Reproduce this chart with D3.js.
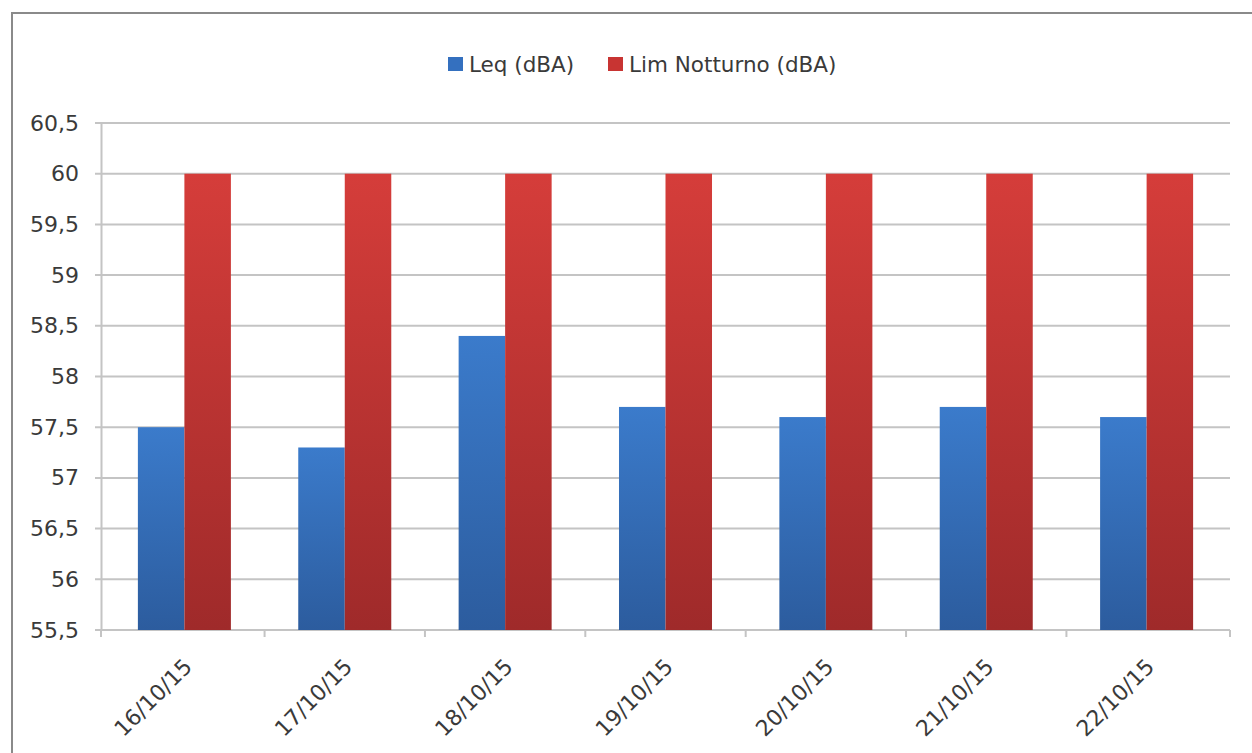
<!DOCTYPE html>
<html>
<head>
<meta charset="utf-8">
<script src="https://cdn.jsdelivr.net/npm/d3@7"></script>
<style>
  html, body { margin: 0; padding: 0; background: #fff; }
  svg { display: block; font-family: "DejaVu Sans", sans-serif; }
</style>
</head>
<body>
<svg id="chart" width="1252" height="753"></svg>
<script>
const categories = ["16/10/15", "17/10/15", "18/10/15", "19/10/15", "20/10/15", "21/10/15", "22/10/15"];
const seriesNames = ["Leq (dBA)", "Lim Notturno (dBA)"];
const leqValues = [57.5, 57.3, 58.4, 57.7, 57.6, 57.7, 57.6];
const limValues = [60, 60, 60, 60, 60, 60, 60];
const yTicks = [55.5, 56, 56.5, 57, 57.5, 58, 58.5, 59, 59.5, 60, 60.5];

const seriesValues = [leqValues, limValues];
const gradIds = ["gBlue", "gRed"];
const gradStops = [["#3b7bcb", "#2c5c9e"], ["#d53d3a", "#9f2a2a"]];
const legendColors = ["#3470bf", "#c83432"];

const svg = d3.select("#chart");
const defs = svg.append("defs");
gradIds.forEach((id, i) => {
  const g = defs.append("linearGradient").attr("id", id)
    .attr("x1", 0).attr("y1", 0).attr("x2", 0).attr("y2", 1);
  g.append("stop").attr("offset", "0%").attr("stop-color", gradStops[i][0]);
  g.append("stop").attr("offset", "100%").attr("stop-color", gradStops[i][1]);
});

// frame
svg.append("rect").attr("x", 12).attr("y", 13).attr("width", 1260).attr("height", 760)
  .attr("fill", "none").attr("stroke", "#8a8a8a").attr("stroke-width", 2);

const plotLeft = 101, plotRight = 1230, plotTop = 123, plotBottom = 630;
const y = d3.scaleLinear().domain([55.5, 60.5]).range([plotBottom, plotTop]);
const x0 = d3.scaleBand().domain(categories).range([plotLeft, plotRight])
  .paddingInner(0.42).paddingOuter(0.23);
const x1 = d3.scaleBand().domain(seriesNames).range([0, x0.bandwidth()]).padding(0);

// gridlines
svg.append("g").selectAll("line").data(yTicks).join("line")
  .attr("x1", plotLeft - 6).attr("x2", plotRight)
  .attr("y1", d => y(d)).attr("y2", d => y(d))
  .attr("stroke", "#c4c4c4").attr("stroke-width", 2);

// y axis
const yAxis = d3.axisLeft(y).tickValues(yTicks).tickSize(0).tickPadding(22)
  .tickFormat(d => String(d).replace(".", ","));
const ya = svg.append("g").attr("transform", `translate(${plotLeft},0)`).call(yAxis);
ya.select(".domain").attr("stroke", "#c4c4c4").attr("stroke-width", 2);
ya.selectAll("text").attr("font-size", 22).attr("fill", "#3a3a3a")
  .attr("font-family", "DejaVu Sans, sans-serif");

// bars
const groups = svg.append("g").selectAll("g").data(categories).join("g")
  .attr("transform", d => `translate(${x0(d)},0)`);
groups.selectAll("rect").data((d, i) => seriesNames.map((s, j) => ({ s, v: seriesValues[j][i], j })))
  .join("rect")
  .attr("x", d => x1(d.s)).attr("width", x1.bandwidth())
  .attr("y", d => y(d.v)).attr("height", d => plotBottom - y(d.v))
  .attr("fill", d => `url(#${gradIds[d.j]})`);

// x axis
const step = x0.step();
const boundaries = categories.map(c => x0(c) - step * x0.paddingInner() / 2);
boundaries[0] = plotLeft;
boundaries.push(plotRight);
svg.append("g").selectAll("line").data(boundaries).join("line")
  .attr("x1", d => d).attr("x2", d => d).attr("y1", plotBottom).attr("y2", plotBottom + 7)
  .attr("stroke", "#c4c4c4").attr("stroke-width", 2);

svg.append("g").selectAll("text").data(categories).join("text")
  .attr("transform", d => `translate(${x0(d) + x0.bandwidth() / 2 + 9},${plotBottom + 38}) rotate(-45)`)
  .attr("text-anchor", "end")
  .attr("font-size", 22).attr("fill", "#3a3a3a")
  .text(d => d);

// legend
const legendX = [448, 608];
const lg = svg.append("g").selectAll("g").data(seriesNames).join("g")
  .attr("transform", (d, i) => `translate(${legendX[i]},57)`);
lg.append("rect").attr("width", 15).attr("height", 14)
  .attr("fill", (d, i) => legendColors[i]);
lg.append("text").attr("x", 21).attr("y", 15).attr("font-size", 21.5)
  .attr("fill", "#3a3a3a").text(d => d);
</script>
</body>
</html>
